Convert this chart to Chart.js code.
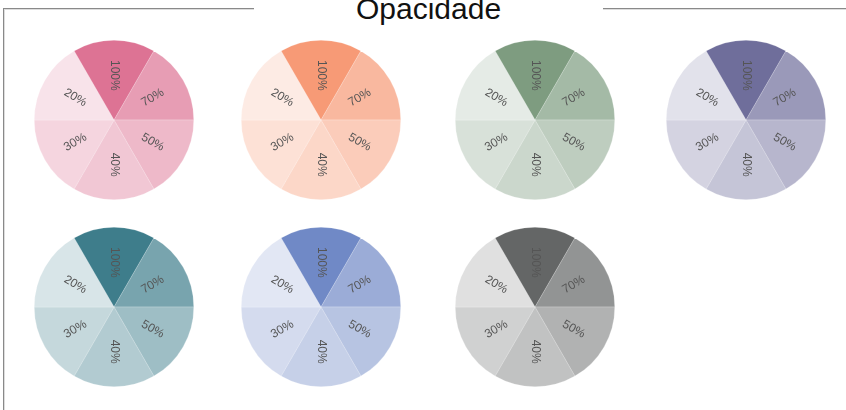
<!DOCTYPE html>
<html>
<head>
<meta charset="utf-8">
<title>Opacidade</title>
<script src="https://cdn.jsdelivr.net/npm/chart.js@4.4.1/dist/chart.umd.min.js"></script>
<style>
  html, body { margin: 0; padding: 0; background: #fff; overflow: hidden; width: 846px; height: 410px; }
  fieldset {
    position: absolute; left: 3px; top: -8px;
    width: 1000px; height: 600px;
    margin: 0; padding: 0;
    border: 2px groove #ddd;
  }
  legend {
    margin-left: 249px; padding: 0 102px;
    font: 30px "Liberation Sans", Arial, sans-serif; color: #111;
  }
  canvas { position: absolute; }
</style>
</head>
<body>
<fieldset><legend>Opacidade</legend></fieldset>
<div id="pies"></div>
<script>
// slices, clockwise from the top one
var categories = ['100%', '70%', '50%', '40%', '30%', '20%']
var opacities  = [1, 0.7, 0.5, 0.4, 0.3, 0.2]
var sliceValues = [1, 1, 1, 1, 1, 1]
// one base colour per pie
var baseColors = ['#dd7394', '#f79a76', '#7e9c80', '#6f6e9b', '#3e7d8b', '#7089c6', '#646666']

// where each pie sits (centre x, centre y)
var centers = [[114, 119.5], [321, 119.5], [534.5, 119.5], [745.5, 119.5],
               [114, 307], [321, 307], [534.5, 307]]
var SIZE = 160

function rgba(hex, a){
  var n = parseInt(hex.slice(1), 16)
  return 'rgba(' + (n >> 16) + ',' + ((n >> 8) & 255) + ',' + (n & 255) + ',' + a + ')'
}

var sliceLabels = {
  id: 'sliceLabels',
  afterDatasetsDraw: function(chart){
    var ctx = chart.ctx
    var meta = chart.getDatasetMeta(0)
    ctx.save()
    ctx.font = '12px "Liberation Sans", Arial, sans-serif'
    ctx.fillStyle = '#555'
    ctx.textAlign = 'center'
    ctx.textBaseline = 'middle'
    meta.data.forEach(function(arc, i){
      var p = arc.getProps(['x', 'y', 'startAngle', 'endAngle', 'outerRadius'], true)
      var mid = (p.startAngle + p.endAngle) / 2
      var r = p.outerRadius * 0.56
      var a = mid
      while (a > Math.PI / 2 + 1e-6) a -= Math.PI
      while (a <= -Math.PI / 2 + 1e-6) a += Math.PI
      ctx.save()
      ctx.translate(p.x + Math.cos(mid) * r, p.y + Math.sin(mid) * r)
      ctx.rotate(a)
      ctx.fillText(chart.data.labels[i], 0, 0)
      ctx.restore()
    })
    ctx.restore()
  }
}

var holder = document.getElementById('pies')
baseColors.forEach(function(base, k){
  var c = document.createElement('canvas')
  c.width = SIZE
  c.height = SIZE
  c.style.width = SIZE + 'px'
  c.style.height = SIZE + 'px'
  c.style.left = (centers[k][0] - SIZE / 2) + 'px'
  c.style.top = (centers[k][1] - SIZE / 2) + 'px'
  holder.appendChild(c)
  new Chart(c.getContext('2d'), {
    type: 'pie',
    data: {
      labels: categories,
      datasets: [{
        data: sliceValues,
        backgroundColor: opacities.map(function(o){ return rgba(base, o) }),
        borderColor: 'rgba(255,255,255,0.4)',
        borderWidth: 0.5
      }]
    },
    options: {
      responsive: false,
      animation: false,
      rotation: -30,
      layout: { padding: 0 },
      plugins: { legend: { display: false }, tooltip: { enabled: false } }
    },
    plugins: [sliceLabels]
  })
})
</script>
</body>
</html>
